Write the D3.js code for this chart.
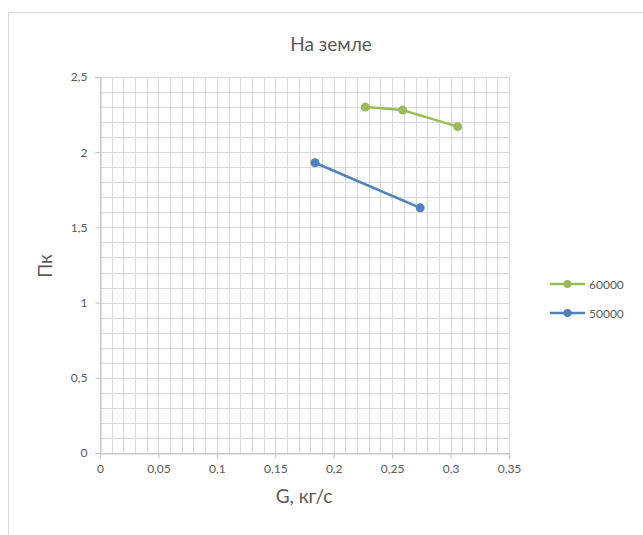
<!DOCTYPE html>
<html>
<head>
<meta charset="utf-8">
<script src="https://cdn.jsdelivr.net/npm/d3@7"></script>
<style>
html,body{margin:0;padding:0;background:#fff;}
svg text{font-family:Lato,"Open Sans",sans-serif;}
</style>
</head>
<body>
<svg id="chart" width="643" height="535"></svg>
<script>
const title = "На земле";
const xLabel = "G, кг/с";
const yLabel = "Пк";
const seriesNames = ["60000", "50000"];
const seriesColors = ["#9BBB59", "#4F81BD"];
const g60000 = [0.227, 0.259, 0.306];
const p60000 = [2.30, 2.28, 2.17];
const g50000 = [0.184, 0.274];
const p50000 = [1.93, 1.63];
const xTicks = [0, 0.05, 0.1, 0.15, 0.2, 0.25, 0.3, 0.35];
const yTicks = [0, 0.5, 1, 1.5, 2, 2.5];

const svg = d3.select("#chart");
const W = 643, H = 535;
const L = 100, R = 509, T = 77, B = 453;

// outer frame (partial chart border)
svg.append("line").attr("x1", 8).attr("x2", W).attr("y1", 12.5).attr("y2", 12.5).attr("stroke", "#d9d9d9");
svg.append("line").attr("x1", 8.5).attr("x2", 8.5).attr("y1", 12).attr("y2", H).attr("stroke", "#d9d9d9");

const x = d3.scaleLinear().domain([0, 0.35]).range([L, R]);
const y = d3.scaleLinear().domain([0, 2.5]).range([B, T]);
const fmt = d => String(d).replace(".", ",");

// minor gridlines
const xMinor = d3.range(0, 36).map(i => i * 0.01);
const yMinor = d3.range(0, 26).map(i => i * 0.1);
const grid = svg.append("g");
grid.selectAll(".vx").data(xMinor).enter().append("line")
  .attr("x1", d => Math.round(x(d)) + 0.5).attr("x2", d => Math.round(x(d)) + 0.5)
  .attr("y1", T).attr("y2", B).attr("stroke", "#d9d9d9").attr("stroke-width", 1);
grid.selectAll(".hy").data(yMinor).enter().append("line")
  .attr("y1", d => Math.round(y(d)) + 0.5).attr("y2", d => Math.round(y(d)) + 0.5)
  .attr("x1", L).attr("x2", R).attr("stroke", "#d9d9d9").attr("stroke-width", 1);

// axes
const xAxis = d3.axisBottom(x).tickValues(xTicks).tickFormat(fmt).tickSize(5).tickPadding(6);
const yAxis = d3.axisLeft(y).tickValues(yTicks).tickFormat(fmt).tickSize(5).tickPadding(8);
const gx = svg.append("g").attr("transform", `translate(0,${Math.round(B)+0.5})`).call(xAxis);
const gy = svg.append("g").attr("transform", `translate(${Math.round(L)+0.5},0)`).call(yAxis);
[gx, gy].forEach(g => {
  g.select(".domain").attr("stroke", "#bfbfbf");
  g.selectAll(".tick line").attr("stroke", "#bfbfbf");
  g.selectAll(".tick text").attr("fill", "#595959").style("font-size", "12px");
});

// title and axis labels
svg.append("text").attr("x", 331).attr("y", 51).attr("text-anchor", "middle")
  .attr("fill", "#595959").style("font-size", "19px").text(title);
svg.append("text").attr("x", 304).attr("y", 503).attr("text-anchor", "middle")
  .attr("fill", "#595959").style("font-size", "19px").text(xLabel);
svg.append("text").attr("transform", "translate(52,266) rotate(-90)").attr("text-anchor", "middle")
  .attr("fill", "#595959").style("font-size", "19px").text(yLabel);

// series
const series = [
  {name: seriesNames[0], color: seriesColors[0], pts: g60000.map((g, i) => [g, p60000[i]])},
  {name: seriesNames[1], color: seriesColors[1], pts: g50000.map((g, i) => [g, p50000[i]])}
];
const line = d3.line().x(d => x(d[0])).y(d => y(d[1]));
series.forEach(s => {
  svg.append("path").attr("d", line(s.pts)).attr("fill", "none")
    .attr("stroke", s.color).attr("stroke-width", 2.5).attr("stroke-linejoin", "round");
  svg.selectAll(null).data(s.pts).enter().append("circle")
    .attr("cx", d => x(d[0])).attr("cy", d => y(d[1])).attr("r", 4.5)
    .attr("fill", s.color);
});

// legend
const legY = [284, 313];
series.forEach((s, i) => {
  const g = svg.append("g").attr("transform", `translate(0,${legY[i]})`);
  g.append("line").attr("x1", 550).attr("x2", 585).attr("y1", 0).attr("y2", 0)
    .attr("stroke", s.color).attr("stroke-width", 2.5);
  g.append("circle").attr("cx", 567.5).attr("cy", 0).attr("r", 4).attr("fill", s.color);
  g.append("text").attr("x", 589).attr("y", 4.5).attr("fill", "#595959")
    .style("font-size", "12px").text(s.name);
});
</script>
</body>
</html>
